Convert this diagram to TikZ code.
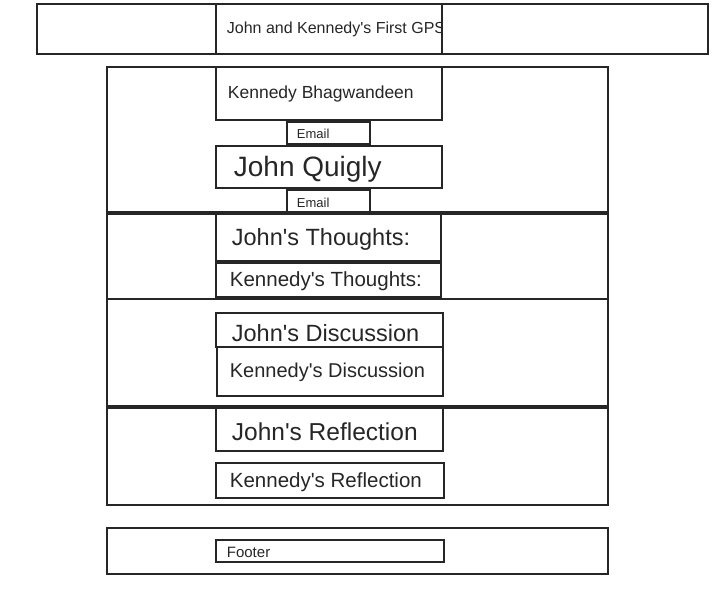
\documentclass[tikz,border=0pt]{standalone}
\usepackage{fontspec}
\setmainfont{Liberation Sans}[Ligatures=TeXOff]
\usetikzlibrary{positioning}
\newcommand{\sz}[1]{\fontsize{#1}{#1}\selectfont}

\begin{document}
\begin{tikzpicture}[x=1pt,y=-1pt,line width=1.8pt,
	frame/.style={draw=black!85},
	lbl/.style={anchor=west,inner sep=0pt,yshift=-1.5pt,text=black!85}]
	\useasboundingbox (0,0) rectangle (728,599);
	% header
	\draw[frame] (37,4) rectangle (708,54);
	\draw[frame] (216,4) -- (216,54);
	\draw[frame] (442,4) -- (442,54);
	\begin{scope}
		\clip (216,4) rectangle (441,54);
		\node[lbl,font=\sz{16}] (title) at (226,28) {John and Kennedy's First GPS};
	\end{scope}
	% names
	\draw[frame] (107,67) rectangle (608,212);
	\draw[frame] (216,67) rectangle (442,120);
	\node[lbl,font=\sz{17.5}] (kennedy) at (227,92) {Kennedy Bhagwandeen};
	\draw[frame] (287,122) rectangle (370,144);
	\node[lbl,font=\sz{13}] (email1) at (296,132) {Email};
	\draw[frame] (216,146) rectangle (442,188);
	\node[lbl,font=\sz{28}] (john) at (233,168) {John Quigly};
	\draw[frame] (287,190) rectangle (370,212);
	\node[lbl,font=\sz{13}] (email2) at (296,201) {Email};
	% thoughts
	\draw[frame] (107,214) rectangle (608,299);
	\draw[frame] (216,214) rectangle (441,261);
	\node[lbl,font=\sz{23.5}] (jthought) at (231,238) {John's Thoughts:};
	\draw[frame] (216,263) rectangle (441,297);
	\node[lbl,font=\sz{20.5}] (kthought) at (229,280) {Kennedy's Thoughts:};
	% discussion
	\draw[frame] (107,299) rectangle (608,406);
	\draw[frame] (216,313) rectangle (443,347);
	\node[lbl,font=\sz{23.5}] (jdisc) at (231,332) {John's Discussion};
	\draw[frame] (217,347) rectangle (443,396);
	\node[lbl,font=\sz{20}] (kdisc) at (229,371) {Kennedy's Discussion};
	% reflection
	\draw[frame] (107,408) rectangle (608,505);
	\draw[frame] (216,408) rectangle (443,451);
	\node[lbl,font=\sz{24.5}] (jrefl) at (231,430) {John's Reflection};
	\draw[frame] (216,463) rectangle (444,498);
	\node[lbl,font=\sz{20.5}] (krefl) at (229,481) {Kennedy's Reflection};
	% footer
	\draw[frame] (107,528) rectangle (608,574);
	\draw[frame] (216,540) rectangle (444,562);
	\node[lbl,font=\sz{15}] (footer) at (226,551) {Footer};
\end{tikzpicture}
\end{document}
